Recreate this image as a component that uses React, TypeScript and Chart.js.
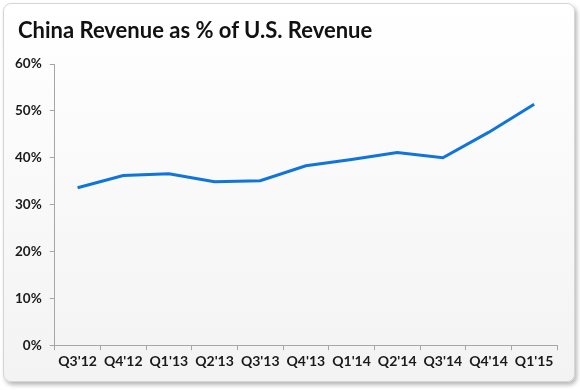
import React, { useEffect, useRef } from "react";
import { Chart, registerables } from "chart.js";

Chart.register(...registerables);

const categories = ["Q3'12", "Q4'12", "Q1'13", "Q2'13", "Q3'13", "Q4'13", "Q1'14", "Q2'14", "Q3'14", "Q4'14", "Q1'15"];
const chinaPctOfUS = [33.6, 36.2, 36.6, 34.9, 35.1, 38.3, 39.6, 41.1, 40.0, 45.4, 51.4];
const yTicks = [0, 10, 20, 30, 40, 50, 60];
const titleText = "China Revenue as % of U.S. Revenue";

export default function App() {
  const ref = useRef<HTMLCanvasElement | null>(null);
  useEffect(() => {
    if (!ref.current) return;
    const chart = new Chart(ref.current, {
      type: "line",
      data: {
        labels: categories,
        datasets: [
          {
            data: chinaPctOfUS,
            borderColor: "#0f74dc",
            borderWidth: 3,
            pointRadius: 0,
            tension: 0,
            fill: false,
          },
        ],
      },
      options: {
        animation: false,
        responsive: false,
        maintainAspectRatio: false,
        layout: { padding: { left: 7, right: 23, top: 64, bottom: 17 } },
        plugins: {
          legend: { display: false },
          tooltip: { enabled: false },
          title: { display: false },
        },
        scales: {
          x: {
            type: "category",
            offset: true,
            grid: {
              display: true,
              offset: true,
              drawOnChartArea: false,
              drawTicks: true,
              tickLength: 5,
              color: "#a6a6a6",
            },
            border: { display: true, color: "#a6a6a6", width: 1 },
            ticks: {
              color: "#1a1a1a",
              font: { family: "Lato", size: 14, weight: "bold" },
              maxRotation: 0,
              autoSkip: false,
              padding: 3,
            },
          },
          y: {
            min: 0,
            max: 60,
            afterBuildTicks: (axis: any) => {
              axis.ticks = yTicks.map((v) => ({ value: v }));
            },
            grid: {
              display: true,
              drawOnChartArea: false,
              drawTicks: true,
              tickLength: 5,
              color: "#a6a6a6",
            },
            border: { display: true, color: "#a6a6a6", width: 1 },
            ticks: {
              color: "#1a1a1a",
              font: { family: "Lato", size: 13.5, weight: "bold" },
              padding: 8,
              callback: (v: any) => v + "%",
            },
          },
        },
      },
    });
    return () => chart.destroy();
  }, []);

  return (
    <div style={{ position: "absolute", left: 0, top: 0, width: 580, height: 390, background: "#fff" }}>
      <div
        style={{
          position: "absolute",
          left: 3,
          top: 3,
          width: 570,
          height: 377,
          borderRadius: 8,
          border: "1px solid #d6d6d6",
          boxShadow: "2px 3px 4px rgba(0,0,0,0.28)",
          background: "linear-gradient(to bottom, #ffffff 0%, #f3f3f3 100%)",
        }}
      />
      <canvas ref={ref} width={580} height={390} style={{ position: "absolute", left: 0, top: 0 }} />
      <div
        style={{
          position: "absolute",
          left: 18,
          top: 16,
          fontFamily: "Lato",
          fontWeight: "bold",
          fontSize: 22,
          lineHeight: "28px",
          color: "#111",
          whiteSpace: "nowrap",
        }}
      >
        {titleText}
      </div>
    </div>
  );
}
